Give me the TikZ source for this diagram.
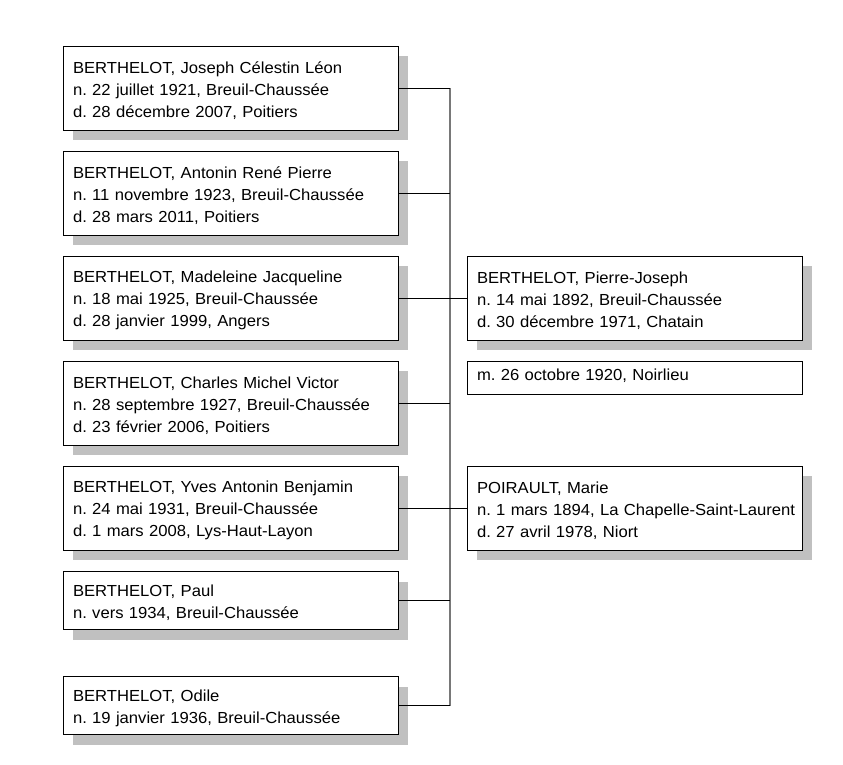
\documentclass[tikz,border=0pt]{standalone}
\usepackage{fontspec}
\setmainfont{Liberation Sans}[FakeStretch=1.04]
\usetikzlibrary{shadows}
\definecolor{shadowgray}{RGB}{192,192,192}
\definecolor{busgray}{RGB}{120,120,120}
\newcommand{\pl}[1]{\mbox{\rule[-2.5pt]{0pt}{19.5pt}#1}}
\newcommand{\mpl}[1]{\mbox{\rule[-7pt]{0pt}{15pt}#1}}
\frenchspacing
\begin{document}
\begin{tikzpicture}[x=1pt,y=-1pt,
  boxbase/.style={draw=black, line width=1pt, fill=white, rectangle,
    minimum width=335pt, text width=315pt, inner xsep=10pt, inner ysep=0pt,
    align=left, font=\fontsize{16}{22}\selectfont},
  person/.style={boxbase,
    drop shadow={shadow xshift=10pt, shadow yshift=-10pt, fill=shadowgray, opacity=1}},
  three/.style={minimum height=84pt},
  two/.style={minimum height=58pt},
  plain/.style={boxbase, minimum height=33pt},
  link/.style={draw=black, line width=1pt},
  busline/.style={draw=busgray, line width=1.6pt}]
\fill[white] (0,0) rectangle (843,764);
\useasboundingbox (0,0) rectangle (843,764);

\node[person, three] (p1) at (230.5,88) {\pl{BERTHELOT, Joseph Célestin Léon}\\\pl{n. 22 juillet 1921, Breuil-Chaussée}\\\pl{d. 28 décembre 2007, Poitiers}};
\node[person, three] (p2) at (230.5,193) {\pl{BERTHELOT, Antonin René Pierre}\\\pl{n. 11 novembre 1923, Breuil-Chaussée}\\\pl{d. 28 mars 2011, Poitiers}};
\node[person, three] (p3) at (230.5,298) {\pl{BERTHELOT, Madeleine Jacqueline}\\\pl{n. 18 mai 1925, Breuil-Chaussée}\\\pl{d. 28 janvier 1999, Angers}};
\node[person, three] (p4) at (230.5,403) {\pl{BERTHELOT, Charles Michel Victor}\\\pl{n. 28 septembre 1927, Breuil-Chaussée}\\\pl{d. 23 février 2006, Poitiers}};
\node[person, three] (p5) at (230.5,508) {\pl{BERTHELOT, Yves Antonin Benjamin}\\\pl{n. 24 mai 1931, Breuil-Chaussée}\\\pl{d. 1 mars 2008, Lys-Haut-Layon}};
\node[person, two] (p6) at (230.5,600.5) {\pl{BERTHELOT, Paul}\\\pl{n. vers 1934, Breuil-Chaussée}};
\node[person, two] (p7) at (230.5,705.5) {\pl{BERTHELOT, Odile}\\\pl{n. 19 janvier 1936, Breuil-Chaussée}};

\node[person, three] (father) at (634.5,298) {\pl{BERTHELOT, Pierre-Joseph}\\\pl{n. 14 mai 1892, Breuil-Chaussée}\\\pl{d. 30 décembre 1971, Chatain}};
\node[plain] (marr) at (634.5,378) {\mpl{m. 26 octobre 1920, Noirlieu}};
\node[person, three] (mother) at (634.5,508) {\pl{POIRAULT, Marie}\\\pl{n. 1 mars 1894, La Chapelle-Saint-Laurent}\\\pl{d. 27 avril 1978, Niort}};

\coordinate (bus) at (450,0);
\draw[busline] (p1.east -| bus) -- (p7.east -| bus);
\foreach \n in {p1,p2,p3,p4,p5,p6,p7}{
  \draw[link] (\n.east) -- (\n.east -| bus);
}
\draw[link] (father.west -| bus) -- (father.west);
\draw[link] (mother.west -| bus) -- (mother.west);
\end{tikzpicture}
\end{document}
